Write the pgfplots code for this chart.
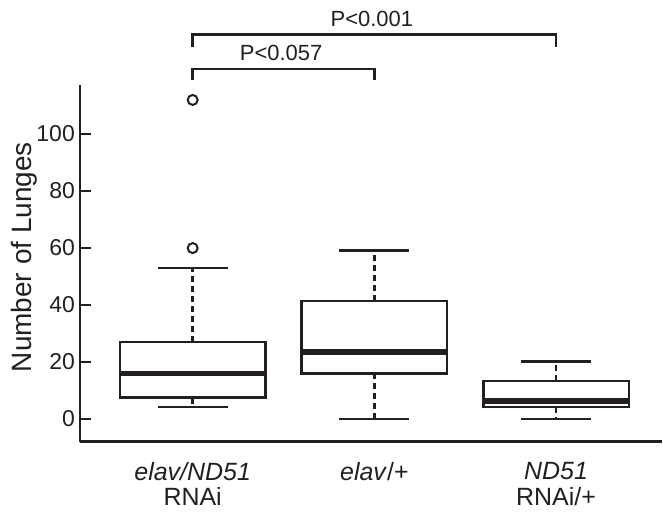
\documentclass[border=0pt]{standalone}
\usepackage{fontspec}
\setmainfont{Liberation Sans}
\usepackage{pgfplots}
\pgfplotsset{compat=1.18}
\usepgfplotslibrary{statistics}

\definecolor{ink}{HTML}{231F20}

\begin{document}
\begin{tikzpicture}
\begin{axis}[
  scale only axis, width=291.5pt, height=178.65pt,
  xmin=0.379, xmax=3.582, ymin=-8, ymax=117.2,
  axis lines=left, axis line style={-, line width=1.2pt, ink},
  clip=false,
  xtick={1,2,3},
  xticklabels={{\textit{elav/ND51}\\RNAi}, {\textit{elav}/+}, {\textit{ND51}\\RNAi/+}},
  xticklabel style={align=center, font=\fontsize{12.5}{13}\selectfont, yshift=-6.7pt, text=ink},
  x tick style={draw=none},
  ytick={0,20,40,60,80,100},
  y tick style={line width=1.2pt, ink},
  tick align=inside, major tick length=5.5pt,
  yticklabel style={font=\fontsize{11.5}{13}\selectfont, text=ink, xshift=1pt},
  /pgf/number format/assume math mode=true,
  boxplot/draw direction=y,
  boxplot/box extend=0.8,
  boxplot/whisker extend=0.385,
  boxplot/every median/.style={line width=2.6pt},
  boxplot/draw/lower whisker/.code={
    \draw[dash pattern=on 3pt off 2pt]
      (boxplot cs:\pgfplotsboxplotvalue{lower quartile}) --
      (boxplot cs:\pgfplotsboxplotvalue{lower whisker});
    \draw (boxplot whisker cs:\pgfplotsboxplotvalue{lower whisker},0) --
      (boxplot whisker cs:\pgfplotsboxplotvalue{lower whisker},1);
  },
  boxplot/draw/upper whisker/.code={
    \draw[dash pattern=on 3pt off 2pt]
      (boxplot cs:\pgfplotsboxplotvalue{upper quartile}) --
      (boxplot cs:\pgfplotsboxplotvalue{upper whisker});
    \draw (boxplot whisker cs:\pgfplotsboxplotvalue{upper whisker},0) --
      (boxplot whisker cs:\pgfplotsboxplotvalue{upper whisker},1);
  },
]
% elav/ND51 RNAi
\addplot[ink, line width=1.2pt, mark=o, mark size=2.5pt,
  mark options={solid, line width=1pt},
  boxplot prepared={draw position=1, median=15.8,
    lower quartile=7.4, upper quartile=27.0,
    lower whisker=4.1, upper whisker=52.9}]
  table[row sep=\\, y index=0] {y\\ 59.9\\ 111.9\\};
% elav/+
\addplot[ink, line width=1.2pt, mark=o, mark size=2.5pt,
  boxplot prepared={draw position=2, median=23.4,
    lower quartile=15.9, upper quartile=41.3,
    lower whisker=0, upper whisker=59.0}]
  coordinates {};
% ND51 RNAi/+
\addplot[ink, line width=1.2pt, mark=o, mark size=2.5pt,
  boxplot prepared={draw position=3, median=6.2,
    lower quartile=4.1, upper quartile=13.2,
    lower whisker=0, upper whisker=20.1}]
  coordinates {};

% significance brackets
\draw[ink, line width=1.2pt] (axis cs:1,130.6) -- (axis cs:1,134.9)
  -- (axis cs:3,134.9) -- (axis cs:3,130.6);
\draw[ink, line width=1.2pt] (axis cs:1,118.9) -- (axis cs:1,122.8)
  -- (axis cs:2,122.8) -- (axis cs:2,118.9);
\node[anchor=base, text=ink, font=\fontsize{11}{13}\selectfont]
  at (axis cs:1.986,137.6) {P<0.001};
\node[anchor=base, text=ink, font=\fontsize{11}{13}\selectfont]
  at (axis cs:1.487,125.9) {P<0.057};

\node[anchor=base, rotate=90, text=ink, font=\fontsize{14}{16}\selectfont]
  at (rel axis cs:-0.083,0.517) {Number of Lunges};

\path (rel axis cs:-0.1372,-0.1979) rectangle (rel axis cs:1,1.2379);
\end{axis}
\end{tikzpicture}
\end{document}
